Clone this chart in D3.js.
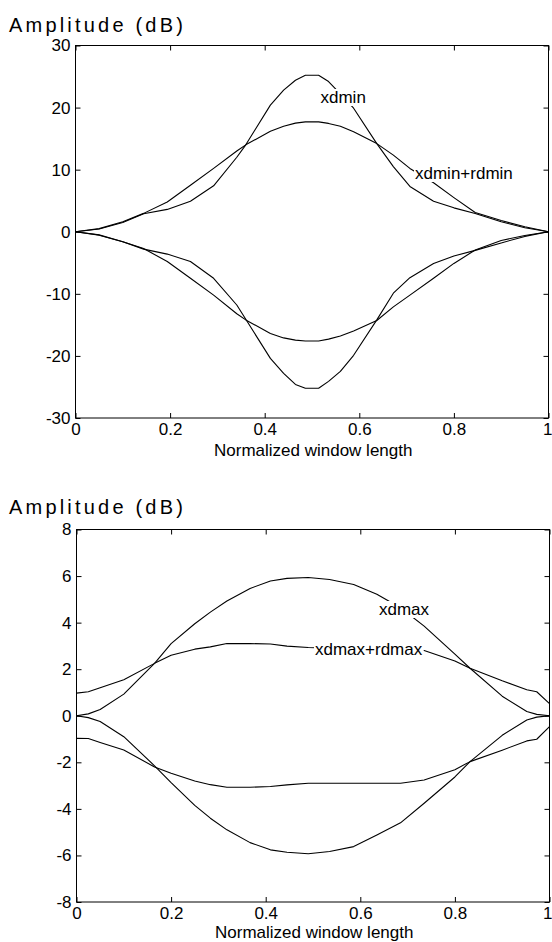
<!DOCTYPE html>
<html>
<head>
<meta charset="utf-8">
<script src="https://cdn.jsdelivr.net/npm/d3@7"></script>
<style>
  html, body { margin: 0; padding: 0; background: #fff; }
  svg { display: block; }
  text { font-family: "Liberation Sans", Arial, Helvetica, sans-serif; fill: #000; }
</style>
</head>
<body>
<svg id="chart" width="552" height="942"></svg>
<script>
// ---- Upper panel: xdmin / xdmin+rdmin envelopes ----
const minX = [0, 0.05, 0.1, 0.144, 0.194, 0.243, 0.292, 0.341, 0.36, 0.412, 0.44, 0.465, 0.486,
              0.514, 0.535, 0.56, 0.588, 0.637, 0.672, 0.707, 0.757, 0.8, 0.845, 0.9, 0.95, 1];
const xdminUpper = [0, 0.45, 1.5, 2.9, 3.6, 4.9, 7.4, 12.0, 14.0, 20.4, 22.8, 24.4, 25.2,
                    25.2, 24.2, 22.2, 19.9, 14.2, 10.5, 7.3, 4.9, 3.85, 2.95, 1.6, 0.65, 0];
const xdminRdminUpper = [0, 0.5, 1.6, 2.96, 4.8, 7.5, 10.2, 13.0, 14.0, 16.2, 17.0, 17.5, 17.7,
                         17.7, 17.45, 17.0, 16.1, 14.2, 12.35, 10.2, 7.9, 5.5, 3.1, 1.8, 0.8, 0];
const xdminLower = [0, -0.5, -1.6, -2.8, -3.6, -4.8, -7.5, -11.8, -14.1, -20.4, -22.8, -24.6, -25.2,
                    -25.2, -24.1, -22.5, -19.9, -14.2, -9.9, -7.4, -5.1, -3.9, -3.0, -1.8, -0.75, 0];
const xdminRdminLower = [0, -0.55, -1.6, -2.7, -4.8, -7.5, -10.2, -13.2, -14.2, -16.4, -17.1, -17.45, -17.6,
                         -17.6, -17.3, -16.8, -16.0, -14.3, -12.1, -10.2, -7.5, -5.1, -2.95, -1.4, -0.6, 0];
const minYTicks = [-30, -20, -10, 0, 10, 20, 30];

// ---- Lower panel: xdmax / xdmax+rdmax envelopes ----
const maxX = [0, 0.025, 0.05, 0.1, 0.165, 0.2, 0.25, 0.283, 0.318, 0.367, 0.41, 0.445, 0.49,
              0.535, 0.586, 0.635, 0.685, 0.735, 0.8, 0.832, 0.9, 0.952, 0.973, 1];
const xdmaxUpper = [0, 0.08, 0.27, 0.93, 2.25, 3.1, 3.95, 4.45, 4.93, 5.47, 5.79, 5.9, 5.94,
                    5.85, 5.64, 5.22, 4.64, 3.85, 2.65, 2.04, 0.84, 0.18, 0.06, 0];
const xdmaxRdmaxUpper = [0.97, 1.03, 1.2, 1.55, 2.25, 2.6, 2.86, 2.96, 3.1, 3.1, 3.08, 2.99, 2.93,
                         2.9, 2.9, 2.9, 2.9, 2.8, 2.35, 2.04, 1.5, 1.12, 1.03, 0.52];
const xdmaxLower = [0, -0.08, -0.25, -0.9, -2.15, -2.87, -3.85, -4.4, -4.9, -5.45, -5.76, -5.86, -5.93,
                    -5.83, -5.62, -5.12, -4.6, -3.76, -2.63, -1.97, -0.84, -0.18, -0.06, 0];
const xdmaxRdmaxLower = [-0.97, -0.98, -1.15, -1.47, -2.2, -2.47, -2.8, -2.96, -3.07, -3.07, -3.04, -2.97, -2.9,
                         -2.9, -2.9, -2.9, -2.9, -2.76, -2.32, -1.97, -1.48, -1.08, -1.01, -0.47];
const maxYTicks = [-8, -6, -4, -2, 0, 2, 4, 6, 8];

// Shared x axis
const xTicks = [0, 0.2, 0.4, 0.6, 0.8, 1];
const xTickLabels = ["0", "0.2", "0.4", "0.6", "0.8", "1"];
const xTitle = "Normalized window length";
const yTitle = "Amplitude (dB)";

const svg = d3.select("#chart");
const FS = 17;
const W = 552;

function drawPanel(cfg) {
  const g = svg.append("g");
  const x = d3.scaleLinear().domain([0, 1]).range([cfg.left, cfg.right]);
  const y = d3.scaleLinear().domain(cfg.yDomain).range([cfg.bottom, cfg.top]);

  // Curves
  const line = d3.line().x(d => x(d[0])).y(d => y(d[1]));
  cfg.series.forEach(vals => {
    g.append("path")
      .datum(cfg.xs.map((v, i) => [v, vals[i]]))
      .attr("d", line)
      .attr("fill", "none")
      .attr("stroke", "#000")
      .attr("stroke-width", 1.1)
      .attr("stroke-linejoin", "round");
  });

  // In-plot labels on a white backing
  cfg.labels.forEach(lb => {
    const t = g.append("text")
      .attr("x", lb.x).attr("y", lb.y)
      .attr("font-size", FS)
      .text(lb.text);
    const bb = t.node().getBBox();
    g.insert("rect", function () { return t.node(); })
      .attr("x", bb.x - 1).attr("y", bb.y + 1)
      .attr("width", bb.width + 2).attr("height", bb.height - 2)
      .attr("fill", "#fff");
  });

  // Axes with inward ticks on all four sides
  const fmt = v => xTickLabels[xTicks.indexOf(v)];
  const axB = d3.axisBottom(x).tickValues(xTicks).tickFormat(fmt).tickSizeInner(-5).tickSizeOuter(0).tickPadding(5);
  const axT = d3.axisTop(x).tickValues(xTicks).tickFormat("").tickSizeInner(-5).tickSizeOuter(0);
  const axL = d3.axisLeft(y).tickValues(cfg.yTicks).tickFormat(d => String(d)).tickSizeInner(-5).tickSizeOuter(0).tickPadding(5);
  const axR = d3.axisRight(y).tickValues(cfg.yTicks).tickFormat("").tickSizeInner(-5).tickSizeOuter(0);

  const styleAxis = sel => {
    sel.select(".domain").remove();
    sel.selectAll("line").attr("stroke", "#000");
    sel.selectAll("text").attr("font-size", FS).attr("font-family", null).attr("fill", "#000");
  };
  const gB = g.append("g").attr("transform", `translate(0,${cfg.bottom})`).call(axB).call(styleAxis);
  // keep the last tick label inside the page edge
  gB.selectAll(".tick text").filter(d => x(d) > W - 6)
    .attr("text-anchor", "end").attr("dx", W - cfg.right);
  g.append("g").attr("transform", `translate(0,${cfg.top})`).call(axT).call(styleAxis);
  g.append("g").attr("transform", `translate(${cfg.left},0)`).call(axL).call(styleAxis);
  g.append("g").attr("transform", `translate(${cfg.right},0)`).call(axR).call(styleAxis);

  g.append("rect")
    .attr("x", cfg.left).attr("y", cfg.top)
    .attr("width", cfg.right - cfg.left).attr("height", cfg.bottom - cfg.top)
    .attr("fill", "none").attr("stroke", "#000").attr("stroke-width", 1);

  // Titles
  g.append("text")
    .attr("x", cfg.xTitleX).attr("y", cfg.xTitleY)
    .attr("font-size", FS)
    .text(xTitle);
  g.append("text")
    .attr("x", 9).attr("y", cfg.yTitleY)
    .attr("font-size", 20)
    .attr("letter-spacing", "3.2px")
    .text(yTitle);
}

drawPanel({
  left: 75.5, right: 548.5, top: 45.5, bottom: 418,
  yDomain: [-30, 30], yTicks: minYTicks,
  xs: minX,
  series: [xdminUpper, xdminRdminUpper, xdminLower, xdminRdminLower],
  labels: [
    { text: "xdmin", x: 320.5, y: 103 },
    { text: "xdmin+rdmin", x: 415, y: 179 }
  ],
  xTitleX: 214, xTitleY: 455.5, yTitleY: 31.5
});

drawPanel({
  left: 76.5, right: 549.5, top: 529.5, bottom: 902,
  yDomain: [-8, 8], yTicks: maxYTicks,
  xs: maxX,
  series: [xdmaxUpper, xdmaxRdmaxUpper, xdmaxLower, xdmaxRdmaxLower],
  labels: [
    { text: "xdmax", x: 379, y: 615 },
    { text: "xdmax+rdmax", x: 315, y: 655 }
  ],
  xTitleX: 215, xTitleY: 938, yTitleY: 514
});
</script>
</body>
</html>
